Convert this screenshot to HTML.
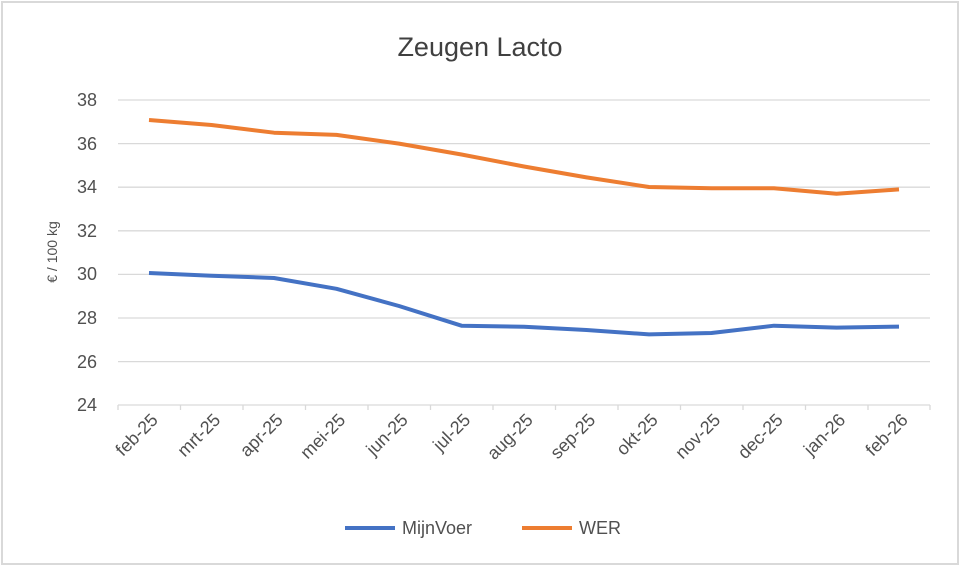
<!DOCTYPE html>
<html><head><meta charset="utf-8"><style>
body{margin:0;background:#fff;}
svg text{font-family:"Liberation Sans",sans-serif;fill:#505050;}
</style></head><body>
<svg width="960" height="567" xmlns="http://www.w3.org/2000/svg">
<rect x="2" y="2" width="956" height="562" fill="#fff" stroke="#d9d9d9" stroke-width="2"/>
<text x="480" y="56" font-size="27" text-anchor="middle" style="fill:#404040">Zeugen Lacto</text>
<g stroke="#d9d9d9" stroke-width="1.3">
<line x1="118" x2="930" y1="100" y2="100"/>
<line x1="118" x2="930" y1="143.6" y2="143.6"/>
<line x1="118" x2="930" y1="187.2" y2="187.2"/>
<line x1="118" x2="930" y1="230.8" y2="230.8"/>
<line x1="118" x2="930" y1="274.4" y2="274.4"/>
<line x1="118" x2="930" y1="318" y2="318"/>
<line x1="118" x2="930" y1="361.6" y2="361.6"/>
<line x1="118" x2="930" y1="405" y2="405"/>
<line x1="118" x2="118" y1="405" y2="410"/><line x1="180.5" x2="180.5" y1="405" y2="410"/><line x1="243" x2="243" y1="405" y2="410"/><line x1="305.5" x2="305.5" y1="405" y2="410"/><line x1="368" x2="368" y1="405" y2="410"/><line x1="430.5" x2="430.5" y1="405" y2="410"/><line x1="493" x2="493" y1="405" y2="410"/><line x1="555.5" x2="555.5" y1="405" y2="410"/><line x1="618" x2="618" y1="405" y2="410"/><line x1="680.5" x2="680.5" y1="405" y2="410"/><line x1="743" x2="743" y1="405" y2="410"/><line x1="805.5" x2="805.5" y1="405" y2="410"/><line x1="868" x2="868" y1="405" y2="410"/><line x1="930" x2="930" y1="405" y2="410"/>
</g>
<g font-size="18" text-anchor="end">
<text x="97" y="106">38</text><text x="97" y="150">36</text><text x="97" y="193">34</text><text x="97" y="237">32</text><text x="97" y="280">30</text><text x="97" y="324">28</text><text x="97" y="368">26</text><text x="97" y="411">24</text>
</g>
<text transform="translate(57,252) rotate(-90)" font-size="14" text-anchor="middle">€ / 100 kg</text>
<g font-size="18" text-anchor="end">
<text transform="translate(159,421) rotate(-45)">feb-25</text>
<text transform="translate(221.5,421) rotate(-45)">mrt-25</text>
<text transform="translate(284,421) rotate(-45)">apr-25</text>
<text transform="translate(346.5,421) rotate(-45)">mei-25</text>
<text transform="translate(409,421) rotate(-45)">jun-25</text>
<text transform="translate(471.5,421) rotate(-45)">jul-25</text>
<text transform="translate(534,421) rotate(-45)">aug-25</text>
<text transform="translate(596.5,421) rotate(-45)">sep-25</text>
<text transform="translate(659,421) rotate(-45)">okt-25</text>
<text transform="translate(721.5,421) rotate(-45)">nov-25</text>
<text transform="translate(784,421) rotate(-45)">dec-25</text>
<text transform="translate(846.5,421) rotate(-45)">jan-26</text>
<text transform="translate(909,421) rotate(-45)">feb-26</text>
</g>
<polyline fill="none" stroke="#4472c4" stroke-width="4" stroke-linejoin="round" points="149,273 211.5,275.7 274,278 336.5,288.8 399,306 461.5,325.7 524,326.8 586.5,330 649,334.4 711.5,333 774,325.7 836.5,327.6 899,326.6"/>
<polyline fill="none" stroke="#ed7d31" stroke-width="4" stroke-linejoin="round" points="149,120 211.5,125 274,132.7 336.5,134.9 399,143.6 461.5,154.5 524,166.5 586.5,177.4 649,187 711.5,188.3 774,188.3 836.5,193.7 899,189.4"/>
<line x1="345" x2="395" y1="528" y2="528" stroke="#4472c4" stroke-width="4"/>
<text x="402" y="534" font-size="18">MijnVoer</text>
<line x1="522" x2="572" y1="528" y2="528" stroke="#ed7d31" stroke-width="4"/>
<text x="579" y="534" font-size="18">WER</text>
</svg>
</body></html>
